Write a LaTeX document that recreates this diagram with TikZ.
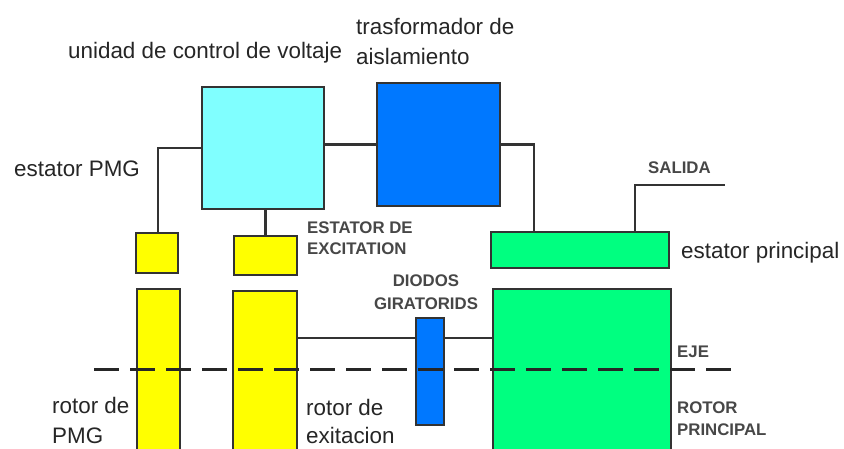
\documentclass[tikz,border=0pt]{standalone}
\usepackage{fontspec}
\setmainfont{Liberation Sans}
\definecolor{cyanbox}{HTML}{80FFFF}
\definecolor{bluebox}{HTML}{0078FF}
\definecolor{yellowbox}{HTML}{FFFF00}
\definecolor{greenbox}{HTML}{00FF80}
\definecolor{edge}{HTML}{333333}
\begin{document}
\begin{tikzpicture}[x=1pt,y=-1pt,
  box/.style={draw=edge, line width=2.5pt, rectangle, inner sep=0pt, outer sep=0pt, anchor=north west},
  wire/.style={draw=edge, line width=2.5pt},
  axis/.style={draw=black!85, line width=3pt, dash pattern=on 25pt off 11pt},
  lbl/.style={font=\fontsize{22.4}{29}\selectfont, text=black!85, inner sep=0pt, anchor=base west},
  caplbl/.style={font=\bfseries\fontsize{16.8}{21}\selectfont, text=black!72, inner sep=0pt, anchor=base west}]
\useasboundingbox[fill=white] (0,0) rectangle (844,449);

% boxes
\node[box, fill=cyanbox, minimum width=122pt, minimum height=122pt] (cu) at (202,87) {};
\node[box, fill=bluebox, minimum width=123pt, minimum height=123pt] (tr) at (377,83) {};
\node[box, fill=yellowbox, minimum width=42pt, minimum height=40pt] (pmgs) at (136,233) {};
\node[box, fill=yellowbox, minimum width=63pt, minimum height=39pt] (exs) at (234,236) {};
\node[box, fill=yellowbox, minimum width=43pt, minimum height=175pt] (pmgr) at (137,289) {};
\node[box, fill=yellowbox, minimum width=64pt, minimum height=175pt] (exr) at (233,291) {};
\node[box, fill=bluebox, minimum width=28pt, minimum height=107pt] (dio) at (416,318) {};
\node[box, fill=greenbox, minimum width=178pt, minimum height=36pt] (ms) at (491,232) {};
\node[box, fill=greenbox, minimum width=178pt, minimum height=175pt] (mr) at (493,289) {};

% helper coordinates
\coordinate (pmgx) at (158,0);
\coordinate (trx) at (534,0);
\coordinate (lk) at (0,338);
\coordinate (sal) at (635,185);
\coordinate (salend) at (725,185);
\coordinate (ejeL) at (94,369);
\coordinate (ejeR) at (733,369);

% connectors
\draw[wire] (cu.west) -| (pmgx |- pmgs.north);
\draw[wire] (exs.north) -- (exs.north |- cu.south);
\draw[wire] (tr.west) -- (tr.west -| cu.east);
\draw[wire] (tr.east) -| (trx |- ms.north);
\draw[wire] (sal |- ms.north) -- (sal) -- (salend);
\draw[wire] (exr.east |- lk) -- (dio.west |- lk);
\draw[wire] (dio.east |- lk) -- (mr.west |- lk);
\draw[axis] (ejeL) -- (ejeR);

% labels
\node[lbl] (tcu) at (68,59) {unidad de control de voltaje};
\node[lbl] (ttr1) at (356,35) {trasformador de};
\node[lbl] (ttr2) at (356,65) {aislamiento};
\node[lbl] (tpmgs) at (14,177) {estator PMG};
\node[lbl] (tms) at (681,259) {estator principal};
\node[lbl] (tpmgr1) at (52,413) {rotor de};
\node[lbl] (tpmgr2) at (52,443) {PMG};
\node[lbl] (texr1) at (306,415) {rotor de};
\node[lbl] (texr2) at (306,443) {exitacion};
\node[caplbl] (texs1) at (307,234) {ESTATOR DE};
\node[caplbl] (texs2) at (307,255) {EXCITATION};
\node[caplbl, anchor=base] (tdio1) at (426,287) {DIODOS};
\node[caplbl, anchor=base] (tdio2) at (426,309) {GIRATORIDS};
\node[caplbl] (tsal) at (648,174) {SALIDA};
\node[caplbl] (teje) at (677,357) {EJE};
\node[caplbl] (tmr1) at (677,413) {ROTOR};
\node[caplbl] (tmr2) at (677,435) {PRINCIPAL};
\end{tikzpicture}
\end{document}
